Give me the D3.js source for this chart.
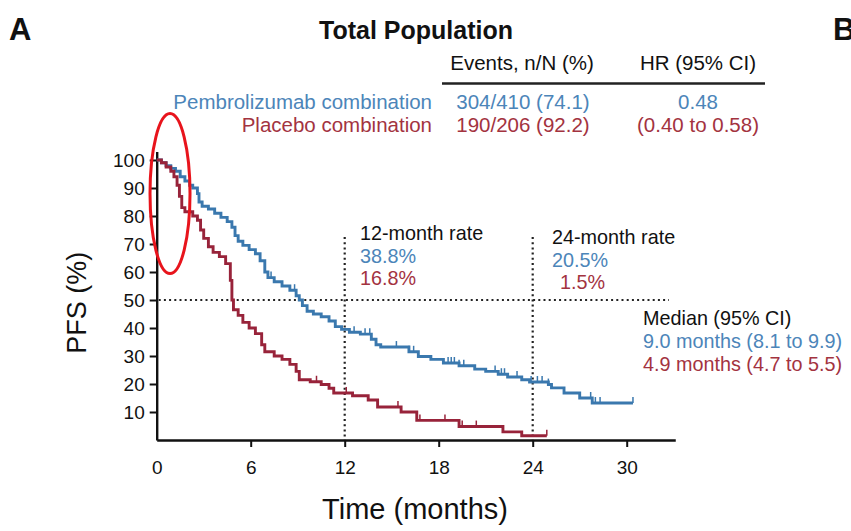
<!DOCTYPE html>
<html>
<head>
<meta charset="utf-8">
<script src="https://cdn.jsdelivr.net/npm/d3@7"></script>
<style>
  html, body { margin: 0; padding: 0; background: #fff; }
  svg { display: block; font-family: "Liberation Sans", Arial, sans-serif; }
</style>
</head>
<body>
<svg id="chart" width="851" height="531"></svg>
<script>
// ---------------- DATA ----------------
const xTicks = [0, 6, 12, 18, 24, 30];
const yTicks = [10, 20, 30, 40, 50, 60, 70, 80, 90, 100];

// Kaplan-Meier steps: [time (months), PFS (%)]
const pembroSteps = [
  [0,100],[0.3,99],[0.6,98],[0.9,97],[1.2,96],[1.5,94],[1.8,92.5],[2.1,91],[2.3,90],
  [2.6,88],[2.7,85],[2.9,83.5],[3.3,82.5],[3.7,81],[4.1,79.5],[4.5,78],[4.8,76],
  [5.0,73],[5.2,71],[5.5,69.5],[5.9,68],[6.3,66.5],[6.6,64],[6.9,60],[7.1,58],
  [7.5,56.5],[8.0,55],[8.5,53.5],[8.9,51.5],[9.1,50],[9.3,48],[9.6,46],[10.0,45],
  [10.5,44],[11.0,42.5],[11.4,40.5],[11.8,39.5],[12.3,38.5],[13.0,37.8],[13.7,36],
  [14.0,34],[14.3,33.2],[16.1,31.5],[16.7,29.8],[17.5,28.8],[18.3,27.5],[19.3,26.5],
  [20.3,25.3],[21.0,24.5],[21.8,23.5],[22.4,22.5],[23.3,21.5],[23.8,20.7],[25.0,19.8],
  [25.2,18.6],[26.0,16.8],[27.0,15.0],[27.8,13.2],[30.4,13.2]
];
const placeboSteps = [
  [0,100],[0.3,99],[0.6,97.5],[0.9,96],[1.1,94],[1.3,91],[1.45,87],[1.6,83],[1.8,81.5],
  [2.3,80],[2.6,78.5],[2.8,75],[3.0,72],[3.3,69],[3.6,67],[4.0,65.5],[4.4,63],[4.7,57],
  [4.8,50],[4.9,46.5],[5.2,44.5],[5.5,42],[5.9,40],[6.3,38],[6.7,34],[6.9,31.5],
  [7.5,30],[8.0,28.8],[8.5,27],[8.9,24.5],[9.1,21.5],[9.8,20.8],[10.5,19.8],[11.0,18.5],
  [11.3,16.8],[12.5,15.8],[13.5,14.3],[14.1,11.8],[15.6,10],[16.6,7],[19.3,4.8],
  [22.1,2.9],[23.3,1.5],[24.9,1.5]
];
const pembroCensor = [7.3, 8.8, 12.6, 13.3, 13.6, 15.3, 16.1, 16.4, 18.6, 18.8, 19.0, 19.3,
  19.6, 21.6, 22.0, 22.2, 23.0, 23.9, 24.3, 24.6, 25.0, 26.0, 27.7, 28.0, 28.3, 30.4];
const placeboCensor = [10.2, 12.1, 15.4, 15.6, 16.8, 18.4, 19.5, 20.4, 24.9];

const seriesNames = ["Pembrolizumab combination", "Placebo combination"];
const eventsText = ["304/410 (74.1)", "190/206 (92.2)"];
const hrText = ["0.48", "(0.40 to 0.58)"];
const rate12 = ["38.8%", "16.8%"];
const rate24 = ["20.5%", "1.5%"];
const medianText = ["9.0 months (8.1 to 9.9)", "4.9 months (4.7 to 5.5)"];
const colors = ["#3a78ae", "#98233a"];
const textColors = ["#4c85b9", "#a3333f"];

// ---------------- SCALES ----------------
const svg = d3.select("#chart");
const x = d3.scaleLinear().domain([0, 30]).range([156.7, 626.7]);
const y = d3.scaleLinear().domain([0, 100]).range([440, 160]);
const xAxisEnd = 33.1, yAxisTop = 103;

// ---------------- AXES ----------------
const xAxisScale = x.copy().domain([0, xAxisEnd]).range([x(0), x(xAxisEnd)]);
const gx = svg.append("g").attr("transform", `translate(0,${y(0)})`)
  .call(d3.axisBottom(xAxisScale).tickValues(xTicks).tickSize(7).tickPadding(14).tickSizeOuter(0));
gx.select(".domain").attr("stroke", "#111").attr("stroke-width", 2.4);
gx.selectAll(".tick line").attr("stroke", "#111").attr("stroke-width", 2)
  .attr("display", d => d === 0 ? "none" : null);
gx.selectAll(".tick text").attr("font-size", 19).attr("fill", "#111")
  .attr("font-family", "Liberation Sans, Arial, sans-serif");

const yAxisScale = y.copy().domain([0, yAxisTop]).range([y(0), y(yAxisTop)]);
const gy = svg.append("g").attr("transform", `translate(${x(0)},0)`)
  .call(d3.axisLeft(yAxisScale).tickValues(yTicks).tickSize(7).tickPadding(5).tickSizeOuter(0));
gy.select(".domain").attr("stroke", "#111").attr("stroke-width", 2.4);
gy.selectAll(".tick line").attr("stroke", "#111").attr("stroke-width", 2);
gy.selectAll(".tick text").attr("font-size", 19).attr("fill", "#111")
  .attr("font-family", "Liberation Sans, Arial, sans-serif");

// axis titles
svg.append("text").attr("x", 415).attr("y", 519).attr("text-anchor", "middle")
  .attr("font-size", 29).attr("fill", "#111").text("Time (months)");
svg.append("text").attr("transform", `translate(86,${y(49)}) rotate(-90)`)
  .attr("text-anchor", "middle").attr("font-size", 27).attr("fill", "#111").text("PFS (%)");

// ---------------- REFERENCE DOTTED LINES ----------------
const dot = g => g.attr("stroke", "#222").attr("stroke-width", 2.2)
  .attr("stroke-dasharray", "2,3.2").attr("fill", "none");
svg.append("line").attr("x1", x(0) + 2).attr("x2", x(32.7)).attr("y1", y(50)).attr("y2", y(50)).call(dot);
svg.append("line").attr("x1", x(12)).attr("x2", x(12)).attr("y1", y(72.5)).attr("y2", y(0)).call(dot);
svg.append("line").attr("x1", x(24)).attr("x2", x(24)).attr("y1", y(72.5)).attr("y2", y(0)).call(dot);

// ---------------- CURVES ----------------
const line = d3.line().x(d => x(d[0])).y(d => y(d[1])).curve(d3.curveStepAfter);
function survAt(steps, t) {
  let s = steps[0][1];
  for (const p of steps) { if (p[0] <= t) s = p[1]; else break; }
  return s;
}
[[pembroSteps, pembroCensor], [placeboSteps, placeboCensor]].forEach(([steps, cens], i) => {
  svg.append("path").datum(steps).attr("d", line).attr("fill", "none")
    .attr("stroke", colors[i]).attr("stroke-width", 2.9).attr("stroke-linejoin", "miter");
  svg.append("g").selectAll("line").data(cens).join("line")
    .attr("x1", d => x(d)).attr("x2", d => x(d))
    .attr("y1", d => y(survAt(steps, d))).attr("y2", d => y(survAt(steps, d)) - 6)
    .attr("stroke", colors[i]).attr("stroke-width", 1.5);
});

// ---------------- ANNOTATIONS ----------------
const ann = (tx, ty, txt, col, anchor) => svg.append("text").attr("x", tx).attr("y", ty)
  .attr("font-size", 19.8).attr("fill", col).attr("text-anchor", anchor || "start").text(txt);
ann(360, 240, "12-month rate", "#111");
ann(360, 263, rate12[0], textColors[0]);
ann(360, 285, rate12[1], textColors[1]);
ann(552, 244, "24-month rate", "#111");
ann(552, 267, rate24[0], textColors[0]);
ann(605, 289, rate24[1], textColors[1], "end");
ann(643, 325, "Median (95% CI)", "#111");
ann(643, 348, medianText[0], textColors[0]);
ann(643, 371, medianText[1], textColors[1]);

// ---------------- HEADER ----------------
svg.append("text").attr("x", 9).attr("y", 40).attr("font-size", 31).attr("font-weight", "bold")
  .attr("fill", "#111").text("A");
svg.append("text").attr("x", 833).attr("y", 40).attr("font-size", 31).attr("font-weight", "bold")
  .attr("fill", "#111").text("B");
svg.append("text").attr("x", 416).attr("y", 39).attr("font-size", 25).attr("font-weight", "bold")
  .attr("text-anchor", "middle").attr("fill", "#111").text("Total Population");

const hdr = (tx, ty, txt, col, anchor) => svg.append("text").attr("x", tx).attr("y", ty)
  .attr("font-size", 20.5).attr("fill", col).attr("text-anchor", anchor || "start").text(txt);
hdr(522, 70, "Events, n/N (%)", "#111", "middle");
hdr(698, 70, "HR (95% CI)", "#111", "middle");
svg.append("line").attr("x1", 442).attr("x2", 765).attr("y1", 83.5).attr("y2", 83.5)
  .attr("stroke", "#222").attr("stroke-width", 2.5);
hdr(432, 109, seriesNames[0], textColors[0], "end");
hdr(432, 132, seriesNames[1], textColors[1], "end");
hdr(523, 109, eventsText[0], textColors[0], "middle");
hdr(523, 132, eventsText[1], textColors[1], "middle");
hdr(698, 109, hrText[0], textColors[0], "middle");
hdr(698, 132, hrText[1], textColors[1], "middle");

// red highlight ellipse
svg.append("ellipse").attr("cx", x(0.85)).attr("cy", y(88)).attr("rx", 20).attr("ry", 80)
  .attr("fill", "none").attr("stroke", "#e8141c").attr("stroke-width", 3);
</script>
</body>
</html>
